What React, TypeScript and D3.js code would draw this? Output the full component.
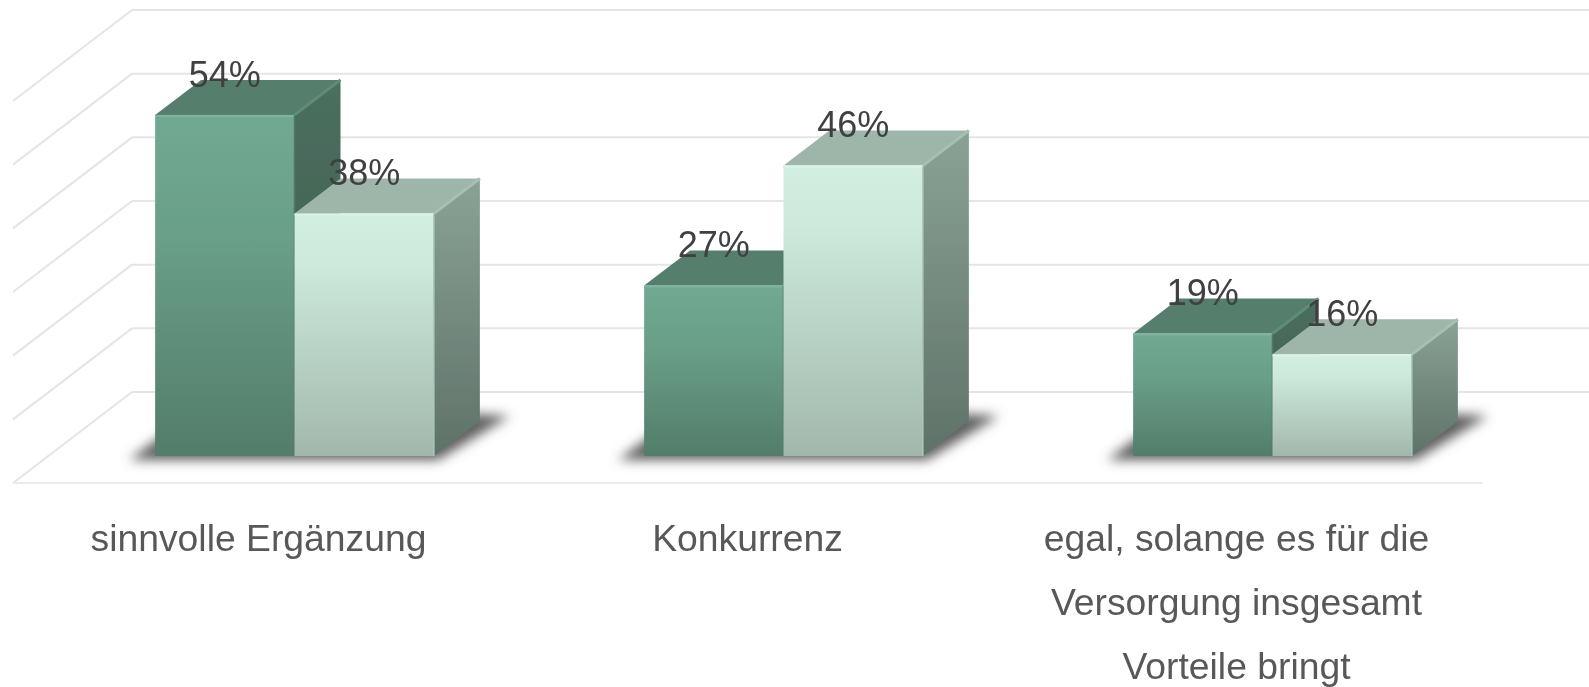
import React from "react";
import * as d3 from "d3";

const categories = ["sinnvolle Ergänzung", "Konkurrenz", "egal, solange es für die Versorgung insgesamt Vorteile bringt"];
const categoryLines = [["sinnvolle Ergänzung"], ["Konkurrenz"], ["egal, solange es für die", "Versorgung insgesamt", "Vorteile bringt"]];
const seriesA = [54, 27, 19.4];
const seriesB = [38.4, 46, 16.1];
const gridTicks = [0, 10, 20, 30, 40, 50, 60];

const W = 1589, H = 687;
const DX = 46, DY = -35;
const x = d3.scaleBand<string>().domain(categories).range([50, 1517]).paddingInner(0.43).paddingOuter(0.215);
const yFront = d3.scaleLinear().domain([0, 60]).range([456, 77]);
const yBack = d3.scaleLinear().domain([0, 60]).range([392, 10]);
const line = d3.line<[number, number]>();
const poly = (p: [number, number][]) => line(p) + "Z";

function Bar({ x0, w, v, kind }: { x0: number; w: number; v: number; kind: "a" | "b" }) {
  const top = yFront(v), base = yFront(0);
  const x1 = x0 + w;
  const edge = kind === "a" ? "#7FB39D" : "#DAF3E8";
  const topEdge = kind === "a" ? "#5F8C78" : "#A6BFB3";
  return (
    <g>
      <path d={poly([[x0, top], [x1, top], [x1 + DX, top + DY], [x0 + DX, top + DY]])} fill={kind === "a" ? "#577E6C" : "#9EB5A9"} />
      <path d={poly([[x1, top], [x1 + DX, top + DY], [x1 + DX, base + DY], [x1, base]])} fill={`url(#side-${kind})`} />
      <line x1={x1} y1={top} x2={x1 + DX} y2={top + DY} stroke={topEdge} strokeWidth={3} />
      <rect x={x0} y={top} width={w} height={base - top} fill={`url(#front-${kind})`} />
      <line x1={x0} y1={top + 1} x2={x1} y2={top + 1} stroke={edge} strokeWidth={2} />
      <line x1={x1} y1={top} x2={x1} y2={base} stroke={kind === "a" ? "#4F7A68" : "#A9C6B9"} strokeWidth={1.5} />
    </g>
  );
}

export default function App() {
  const bw = x.bandwidth() / 2;
  return (
    <svg width={W} height={H} viewBox={`0 0 ${W} ${H}`} style={{ position: "absolute", left: 0, top: 0, background: "#fff" }} fontFamily="'Liberation Sans', Arial, sans-serif">
      <defs>
        <linearGradient id="front-a" x1="0" y1="0" x2="0" y2="1">
          <stop offset="0" stopColor="#70A993" />
          <stop offset="0.35" stopColor="#6A9F89" />
          <stop offset="1" stopColor="#527D6A" />
        </linearGradient>
        <linearGradient id="front-b" x1="0" y1="0" x2="0" y2="1">
          <stop offset="0" stopColor="#D1EEE1" />
          <stop offset="0.2" stopColor="#CDEADD" />
          <stop offset="1" stopColor="#A2B7AC" />
        </linearGradient>
        <linearGradient id="side-a" x1="0" y1="0" x2="0" y2="1">
          <stop offset="0" stopColor="#4B6F5E" />
          <stop offset="1" stopColor="#3D5A4D" />
        </linearGradient>
        <linearGradient id="side-b" x1="0" y1="0" x2="0" y2="1">
          <stop offset="0" stopColor="#8AA295" />
          <stop offset="1" stopColor="#5F7268" />
        </linearGradient>
        <filter id="shadow" x="-20%" y="-80%" width="140%" height="260%">
          <feGaussianBlur stdDeviation="6" />
        </filter>
        <filter id="soft" x="0" y="0" width="100%" height="100%" filterUnits="userSpaceOnUse" primitiveUnits="userSpaceOnUse">
          <feGaussianBlur stdDeviation="0.5" />
        </filter>
      </defs>

      <g filter="url(#soft)">
        <rect x={0} y={0} width={W} height={H} fill="#fff" />
        {gridTicks.map((t) => (
          <g key={t} stroke="#E5E5E5" strokeWidth={2} fill="none">
            <line x1={132} x2={W} y1={yBack(t)} y2={yBack(t)} />
            <line x1={13} x2={132} y1={yBack(t) + 91} y2={yBack(t)} />
          </g>
        ))}
        <line x1={13} x2={1482} y1={yBack(0) + 91} y2={yBack(0) + 91} stroke="#EBEBEB" strokeWidth={2} />

        {categories.map((c) => {
          const x0 = x(c)!;
          const base = yFront(0);
          return (
            <path
              key={c}
              d={poly([[x0 - 26, base + 4], [x0 + 2 * bw + 4, base + 4], [x0 + 2 * bw + 76, base - 40], [x0 + 2 * bw + 40, base - 42], [x0 + 20, base - 30]])}
              fill="#5E5E5E"
              filter="url(#shadow)"
            />
          );
        })}

        {categories.map((c, i) => {
          const x0 = x(c)!;
          return (
            <g key={c}>
              <Bar x0={x0} w={bw} v={seriesA[i]} kind="a" />
              <Bar x0={x0 + bw} w={bw} v={seriesB[i]} kind="b" />
            </g>
          );
        })}

        {categories.map((c, i) => {
          const x0 = x(c)!;
          return (
            <g key={c} fontSize={36} fill="#404040" textAnchor="middle">
              <text x={x0 + bw / 2} y={yFront(seriesA[i]) - 28}>{Math.round(seriesA[i])}%</text>
              <text x={x0 + bw * 1.5} y={yFront(seriesB[i]) - 28}>{Math.round(seriesB[i])}%</text>
            </g>
          );
        })}

        {categories.map((c, i) => (
          <text key={c} fontSize={37.3} fill="#595959" textAnchor="middle">
            {categoryLines[i].map((l, j) => (
              <tspan key={j} x={x(c)! + bw - 36} y={551 + j * 64}>{l}</tspan>
            ))}
          </text>
        ))}
      </g>
    </svg>
  );
}
